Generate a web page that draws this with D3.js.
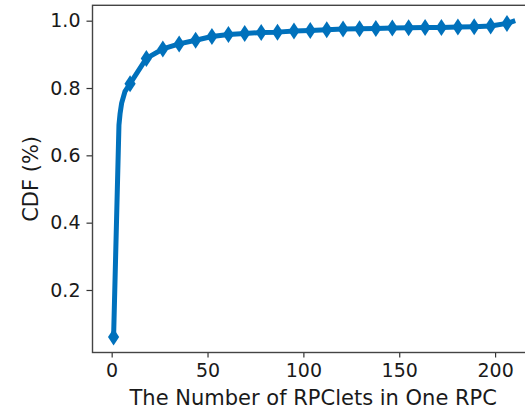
<!DOCTYPE html>
<html>
<head>
<meta charset="utf-8">
<script src="https://cdn.jsdelivr.net/npm/d3@7"></script>
<style>
    body { margin: 0; background: #fff; }
    svg { display: block; }
    .tick text { font-family: "DejaVu Sans", sans-serif; font-size: 19px; fill: #1a1a1a; }
    .axisLabel { font-family: "DejaVu Sans", sans-serif; font-size: 21px; fill: #1a1a1a; }
</style>
</head>
<body>
<script>
//marker positions (number of RPClets) and their CDF values
var markerX = [1, 9.6, 18.1, 26.7, 35.2, 43.8, 52.3, 60.9, 69.4, 78.0, 86.5, 95.1, 103.6,
    112.2, 120.7, 129.3, 137.8, 146.4, 154.9, 163.5, 172.0, 180.6, 189.1, 197.7, 206.2];
var markerCdf = [0.060, 0.813, 0.888, 0.916, 0.931, 0.942, 0.953, 0.959, 0.962, 0.965, 0.966, 0.969, 0.971,
    0.973, 0.975, 0.976, 0.977, 0.978, 0.979, 0.980, 0.980, 0.981, 0.982, 0.984, 0.992];

//extra points of the curve that carry no marker
var bendX = [3.8, 4.4, 5.2, 6.9, 210.5];
var bendCdf = [0.690, 0.725, 0.755, 0.789, 1.0];

//tick labels
var xTicks = [0, 50, 100, 150, 200];
var yTicks = [0.2, 0.4, 0.6, 0.8, 1.0];

function init() {
    var width = 525, height = 411;
    var plot = { left: 92.5, top: 5.3, right: 534, bottom: 352.5 };
    var blue = "#0071bc";

    var svg = d3.select("body").append("svg")
        .attr("width", width)
        .attr("height", height);

    var xScale = d3.scaleLinear()
        .domain([-10, 220.3])
        .range([plot.left, plot.right]);

    var yScale = d3.scaleLinear()
        .domain([0.0143, 1.0457])
        .range([plot.bottom, plot.top]);

    //x axis
    svg.append("g")
        .attr("transform", "translate(0," + plot.bottom + ")")
        .call(d3.axisBottom(xScale).tickValues(xTicks).tickSize(5).tickPadding(6).tickFormat(d3.format("d")))
        .call(function (g) { g.select(".domain").remove(); })
        .call(function (g) { g.selectAll(".tick line").attr("stroke", "#333").attr("stroke-width", 1.2); });

    //y axis
    svg.append("g")
        .attr("transform", "translate(" + plot.left + ",0)")
        .call(d3.axisLeft(yScale).tickValues(yTicks).tickSize(6).tickPadding(6).tickFormat(d3.format(".1f")))
        .call(function (g) { g.select(".domain").remove(); })
        .call(function (g) { g.selectAll(".tick line").attr("stroke", "#333").attr("stroke-width", 1.2); });

    //frame
    svg.append("rect")
        .attr("x", plot.left)
        .attr("y", plot.top)
        .attr("width", plot.right - plot.left)
        .attr("height", plot.bottom - plot.top)
        .attr("fill", "none")
        .attr("stroke", "#444")
        .attr("stroke-width", 1.4);

    //merge marker points and bend points into the curve
    var points = markerX.map(function (x, i) { return [x, markerCdf[i]]; })
        .concat(bendX.map(function (x, i) { return [x, bendCdf[i]]; }))
        .sort(function (a, b) { return a[0] - b[0]; });

    var line = d3.line()
        .x(function (d) { return xScale(d[0]); })
        .y(function (d) { return yScale(d[1]); });

    svg.append("path")
        .datum(points)
        .attr("d", line)
        .attr("fill", "none")
        .attr("stroke", blue)
        .attr("stroke-width", 5)
        .attr("stroke-linejoin", "round");

    //thin diamond markers
    var diamond = "M0,-8.5L5.6,0L0,8.5L-5.6,0Z";
    svg.selectAll(".marker")
        .data(markerX)
        .enter()
        .append("path")
        .attr("class", "marker")
        .attr("d", diamond)
        .attr("transform", function (d, i) { return "translate(" + xScale(d) + "," + yScale(markerCdf[i]) + ")"; })
        .attr("fill", blue);

    //axis labels
    svg.append("text")
        .attr("class", "axisLabel")
        .attr("x", (plot.left + plot.right) / 2)
        .attr("y", 405)
        .attr("text-anchor", "middle")
        .text("The Number of RPClets in One RPC");

    svg.append("text")
        .attr("class", "axisLabel")
        .attr("transform", "translate(38," + (plot.top + plot.bottom) / 2 + ") rotate(-90)")
        .attr("text-anchor", "middle")
        .text("CDF (%)");
}

window.onload = init;
</script>
</body>
</html>
